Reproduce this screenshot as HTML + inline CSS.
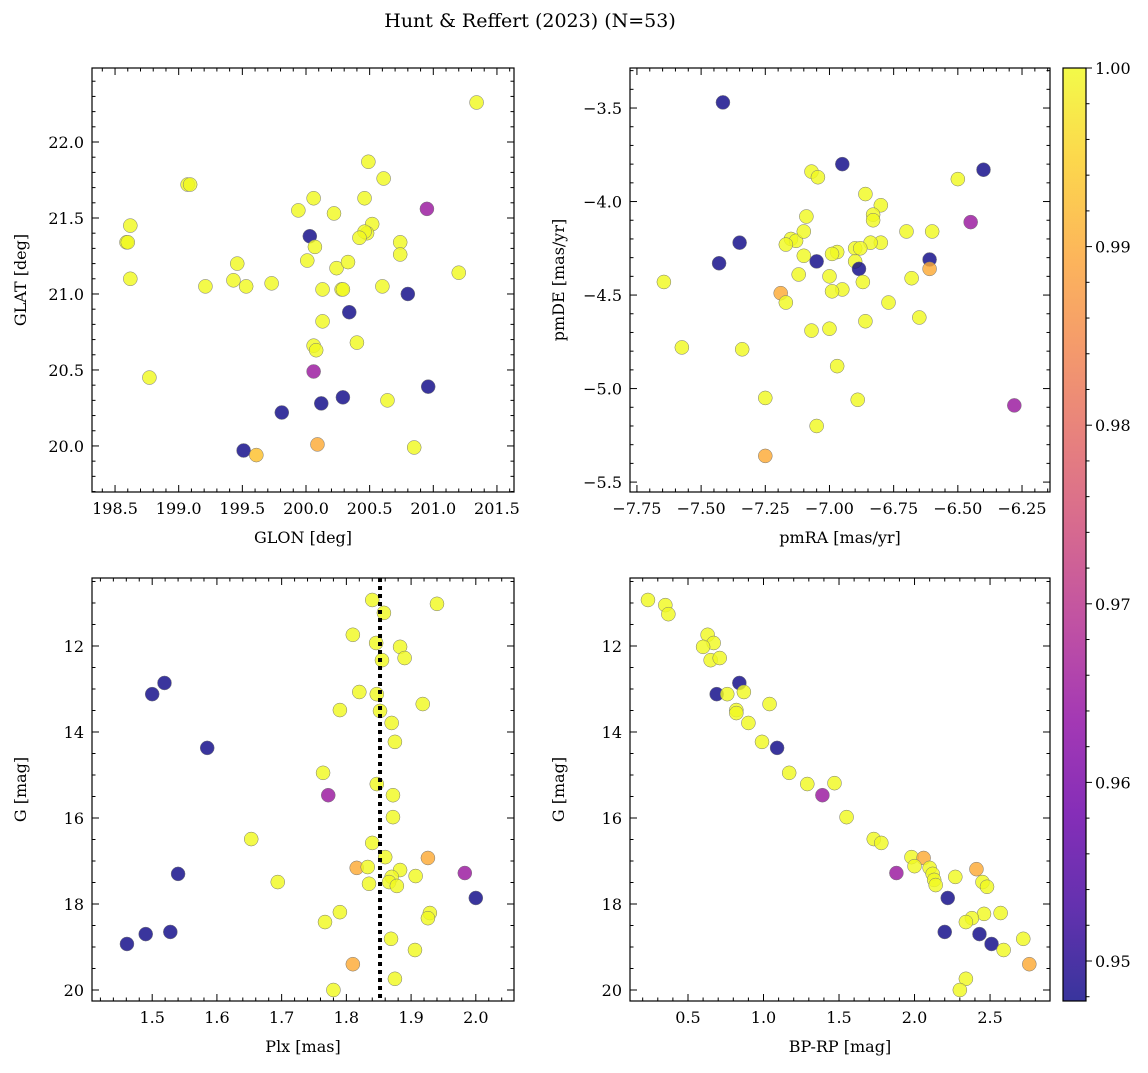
<!DOCTYPE html>
<html><head><meta charset="utf-8"><style>
body{margin:0;background:#fff;}
svg text{font-family:"DejaVu Serif","Liberation Serif",serif;fill:#000;}
</style></head><body>
<svg id="fig" width="1148" height="1068" xmlns="http://www.w3.org/2000/svg">
<defs><linearGradient id="plasma" x1="0" y1="1" x2="0" y2="0">
<stop offset="0" stop-color="#0d0887"/><stop offset="0.1" stop-color="#41049d"/><stop offset="0.2" stop-color="#6a00a8"/><stop offset="0.3" stop-color="#8f0da4"/><stop offset="0.4" stop-color="#b12a90"/><stop offset="0.5" stop-color="#cc4778"/><stop offset="0.6" stop-color="#e16462"/><stop offset="0.7" stop-color="#f2844b"/><stop offset="0.8" stop-color="#fca636"/><stop offset="0.9" stop-color="#fcce25"/><stop offset="1" stop-color="#f0f921"/></linearGradient></defs>
<text x="530" y="27" font-size="19" text-anchor="middle">Hunt &amp; Reffert (2023) (N=53)</text>
</svg>
<script>
const Y=1.0,B=0.948,P=0.965,O=0.99;
// Panel 1: GLON / GLAT
const glon=[201.34,200.49,200.61,199.07,199.09,200.06,200.46,199.94,200.22,198.62,200.52,200.95,200.48,200.46,200.03,200.74,200.07,198.59,198.60,200.42,200.01,200.24,200.33,200.74,201.20,199.46,198.62,199.21,199.43,199.53,199.73,200.13,200.28,200.29,200.60,200.80,200.13,200.34,200.40,200.06,200.08,198.77,200.06,200.96,200.64,200.29,200.12,199.81,200.09,200.85,199.51,199.61];
const glat=[22.26,21.87,21.76,21.72,21.72,21.63,21.63,21.55,21.53,21.45,21.46,21.56,21.40,21.41,21.38,21.34,21.31,21.34,21.34,21.37,21.22,21.17,21.21,21.26,21.14,21.20,21.10,21.05,21.09,21.05,21.07,21.03,21.03,21.03,21.05,21.00,20.82,20.88,20.68,20.66,20.63,20.45,20.49,20.39,20.30,20.32,20.28,20.22,20.01,19.99,19.97,19.94];
const prob1=[Y,Y,Y,Y,Y,Y,Y,Y,Y,Y,Y,P,Y,Y,B,Y,Y,Y,Y,Y,Y,Y,Y,Y,Y,Y,Y,Y,Y,Y,Y,Y,Y,Y,Y,B,Y,B,Y,Y,Y,Y,P,B,Y,B,B,B,O,Y,B,0.993];
// Panel 2: pmRA / pmDE
const pmra=[-7.415,-6.95,-6.40,-7.07,-7.045,-6.50,-6.86,-6.80,-7.09,-6.83,-6.83,-6.45,-7.15,-7.13,-7.10,-6.70,-6.60,-7.35,-7.17,-6.80,-6.84,-6.90,-6.88,-6.97,-6.99,-7.10,-7.05,-6.61,-6.90,-6.885,-7.43,-6.61,-7.12,-7.00,-6.68,-6.87,-7.645,-6.95,-6.99,-7.19,-7.17,-6.77,-6.65,-7.07,-6.86,-7.00,-7.575,-7.34,-6.97,-7.25,-6.89,-6.28,-7.05,-7.25];
const pmde=[-3.47,-3.80,-3.83,-3.84,-3.87,-3.88,-3.96,-4.02,-4.08,-4.07,-4.10,-4.11,-4.20,-4.21,-4.16,-4.16,-4.16,-4.22,-4.23,-4.22,-4.22,-4.25,-4.25,-4.27,-4.28,-4.29,-4.32,-4.31,-4.32,-4.36,-4.33,-4.36,-4.39,-4.40,-4.41,-4.43,-4.43,-4.47,-4.48,-4.49,-4.54,-4.54,-4.62,-4.69,-4.64,-4.68,-4.78,-4.79,-4.88,-5.05,-5.06,-5.09,-5.20,-5.36];
const prob2=[B,B,B,Y,Y,Y,Y,Y,Y,Y,Y,P,Y,Y,Y,Y,Y,B,Y,Y,Y,Y,Y,Y,Y,Y,B,B,Y,B,B,O,Y,Y,Y,Y,Y,Y,Y,O,Y,Y,Y,Y,Y,Y,Y,Y,Y,Y,Y,P,Y,O];
// Panel 3: Plx / G
const plx=[1.84,1.94,1.858,1.81,1.846,1.883,1.855,1.89,1.519,1.50,1.82,1.847,1.918,1.79,1.852,1.87,1.875,1.585,1.764,1.847,1.772,1.872,1.872,1.84,1.653,1.86,1.926,1.816,1.833,1.883,1.983,1.54,1.907,1.87,1.866,1.878,1.835,1.694,2.00,1.929,1.79,1.926,1.767,1.869,1.461,1.49,1.528,1.906,1.81,1.875,1.78];
const gmag3=[10.93,11.02,11.23,11.74,11.93,12.02,12.33,12.28,12.86,13.12,13.07,13.12,13.35,13.49,13.51,13.79,14.23,14.37,14.95,15.21,15.47,15.47,15.98,16.58,16.49,16.91,16.93,17.16,17.14,17.21,17.28,17.30,17.35,17.37,17.49,17.58,17.53,17.49,17.86,18.21,18.19,18.33,18.42,18.81,18.93,18.70,18.65,19.07,19.40,19.74,20.0];
const prob3=[Y,Y,Y,Y,Y,Y,Y,Y,B,B,Y,Y,Y,Y,Y,Y,Y,B,Y,Y,P,Y,Y,Y,Y,Y,O,O,Y,Y,P,B,Y,Y,Y,Y,Y,Y,B,Y,Y,Y,Y,Y,B,B,B,Y,O,Y,Y];
const plxCut=[1.852];
// Panel 4: BP-RP / G
const bprp=[0.235,0.35,0.37,0.63,0.67,0.60,0.65,0.71,0.84,0.69,0.87,0.76,1.04,0.82,0.82,0.90,0.99,1.09,1.17,1.29,1.39,1.47,1.55,1.73,1.78,1.98,2.06,2.00,2.10,2.41,2.12,1.88,2.27,2.13,2.14,2.45,2.48,2.22,2.57,2.46,2.38,2.34,2.72,2.20,2.43,2.51,2.59,2.76,2.34,2.30];
const gmag4=[10.93,11.05,11.26,11.74,11.93,12.02,12.33,12.28,12.86,13.12,13.07,13.12,13.35,13.49,13.56,13.79,14.23,14.37,14.95,15.21,15.47,15.19,15.98,16.49,16.58,16.91,16.93,17.12,17.16,17.19,17.30,17.28,17.37,17.44,17.56,17.49,17.60,17.86,18.21,18.23,18.33,18.42,18.81,18.65,18.70,18.93,19.07,19.40,19.74,20.0];
const prob4=[Y,Y,Y,Y,Y,Y,Y,Y,B,B,Y,Y,Y,Y,Y,Y,Y,B,Y,Y,P,Y,Y,Y,Y,Y,O,Y,Y,O,Y,P,Y,Y,Y,Y,Y,B,Y,Y,Y,Y,Y,B,B,B,Y,O,Y,Y];
const cbTicks=[0.95,0.96,0.97,0.98,0.99,1.00];

const NS="http://www.w3.org/2000/svg",svg=document.getElementById('fig');
function el(t,a,p){const e=document.createElementNS(NS,t);for(const k in a)e.setAttribute(k,a[k]);(p||svg).appendChild(e);return e;}
const stops=['#0d0887','#41049d','#6a00a8','#8f0da4','#b12a90','#cc4778','#e16462','#f2844b','#fca636','#fcce25','#f0f921'];
const VMIN=0.94776,VMAX=1.0;
function hex(h){return [1,3,5].map(i=>parseInt(h.substr(i,2),16));}
function cmap(v){let t=Math.max(0,Math.min(1,(v-VMIN)/(VMAX-VMIN)))*10;const i=Math.min(9,Math.floor(t)),f=t-i;const a=hex(stops[i]),b=hex(stops[i+1]);return 'rgb('+a.map((c,k)=>Math.round(c+(b[k]-c)*f)).join(',')+')';}
function fmt(v,d){let s=v.toFixed(d);return s.replace('-','\u2212');}
function panel(name,box,xr,yr,xMaj,xMin,yMaj,yMin,xd,yd,xlab,ylab,xs,ys,ps,inv){
  const [L,T,R,Bt]=box;
  const g=el('g',{});
  
  
  const sx=v=>L+(v-xr[0])/(xr[1]-xr[0])*(R-L);
  const sy=inv?(v=>T+(v-yr[0])/(yr[1]-yr[0])*(Bt-T)):(v=>Bt-(v-yr[0])/(yr[1]-yr[0])*(Bt-T));
  for(let i=0;i<ps.length;i++){const c=el('circle',{cx:sx(xs[i]),cy:sy(ys[i]),r:7,fill:cmap(ps[i]),'fill-opacity':0.82,stroke:'#777','stroke-width':0.5},g);
    
    }
  const ax=el('g',{},g);
  const s0=Math.ceil(xr[0]/xMin-1e-6);
  for(let k=s0;k*xMin<=xr[1]+1e-9;k++){const v=k*xMin,x=sx(v);const maj=Math.abs(v/xMaj-Math.round(v/xMaj))<1e-6;const len=maj?7:3.5;
    el('line',{x1:x,y1:Bt,x2:x,y2:Bt-len,stroke:'#000','stroke-width':1},ax);el('line',{x1:x,y1:T,x2:x,y2:T+len,stroke:'#000','stroke-width':1},ax);
    if(maj){const t=el('text',{x:x,y:Bt+22,'font-size':16,'text-anchor':'middle'},ax);t.textContent=fmt(v,xd);
      
      }}
  const t0=Math.ceil(yr[0]/yMin-1e-6);
  for(let k=t0;k*yMin<=yr[1]+1e-9;k++){const v=k*yMin,y=sy(v);const maj=Math.abs(v/yMaj-Math.round(v/yMaj))<1e-6;const len=maj?7:3.5;
    el('line',{x1:L,y1:y,x2:L+len,y2:y,stroke:'#000','stroke-width':1},ax);el('line',{x1:R,y1:y,x2:R-len,y2:y,stroke:'#000','stroke-width':1},ax);
    if(maj){const t=el('text',{x:L-8,y:y+6,'font-size':16,'text-anchor':'end'},ax);t.textContent=fmt(v,yd);
      
      }}
  el('rect',{x:L,y:T,width:R-L,height:Bt-T,fill:'none',stroke:'#000','stroke-width':1.2},ax);
  const xl=el('text',{x:(L+R)/2,y:Bt+51,'font-size':16,'text-anchor':'middle'},ax);xl.textContent=xlab;
  
  
  const yl=el('text',{x:0,y:0,'font-size':16,'text-anchor':'middle',transform:`translate(${L-66},${(T+Bt)/2}) rotate(-90)`},ax);yl.textContent=ylab;
  
  
  return {sx,sy,g};
}
panel('glon-glat-panel',[92,68,514,492],[198.319,201.634],[19.697,22.487],0.5,0.1,0.5,0.1,1,1,'GLON [deg]','GLAT [deg]',glon,glat,prob1,false);
panel('pm-panel',[630,68,1050,492],[-7.777,-6.141],[-5.553,-3.286],0.25,0.05,0.5,0.1,2,1,'pmRA [mas/yr]','pmDE [mas/yr]',pmra,pmde,prob2,false);
const p3=panel('plx-g-panel',[92,578,514,1001],[1.407,2.059],[10.419,20.256],0.1,0.02,2,0.5,1,0,'Plx [mas]','G [mag]',plx,gmag3,prob3,true);
panel('cmd-panel',[630,578,1050,1001],[0.116,2.897],[10.419,20.256],0.5,0.1,2,0.5,1,0,'BP-RP [mag]','G [mag]',bprp,gmag4,prob4,true);
const cut=el('line',{x1:p3.sx(plxCut[0]),y1:578,x2:p3.sx(plxCut[0]),y2:1001,stroke:'#000','stroke-width':4,'stroke-dasharray':'4,4'});


// colorbar
const cb=el('g',{});


el('rect',{x:1063,y:68,width:23,height:933,fill:'url(#plasma)','fill-opacity':0.82},cb);
el('rect',{x:1063,y:68,width:23,height:933,fill:'none',stroke:'#000','stroke-width':1.2},cb);
const cy=v=>1001-(v-VMIN)/(VMAX-VMIN)*933;
for(let k=Math.ceil(VMIN/0.002);k*0.002<=VMAX+1e-9;k++){const v=k*0.002,y=cy(v);const maj=Math.abs(v*100-Math.round(v*100))<1e-6;
  el('line',{x1:1086,y1:y,x2:1086+(maj?6:3.5),y2:y,stroke:'#000','stroke-width':1},cb);}
for(const v of cbTicks){const t=el('text',{x:1095,y:cy(v)+6,'font-size':16},cb);t.textContent=v.toFixed(2);
  
  }
</script>
</body></html>
